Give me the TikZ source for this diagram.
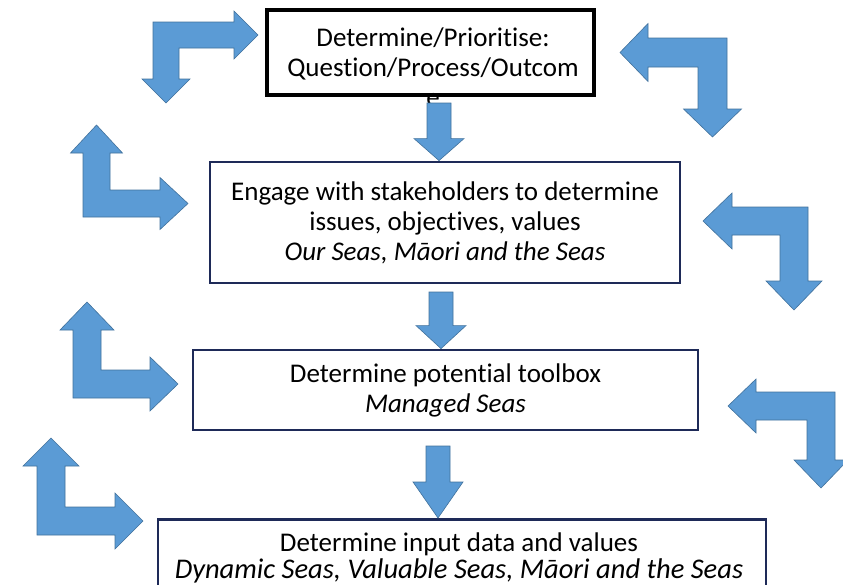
\documentclass[tikz,border=0pt]{standalone}
\usepackage{fontspec}
\setmainfont{Carlito}[Ligatures={NoCommon,NoContextual},RawFeature={-liga}]
\usepackage{tikz}
\usetikzlibrary{calc}
\usetikzlibrary{positioning}
\definecolor{arrowblue}{RGB}{91,155,213}
\definecolor{arrowedge}{RGB}{65,113,156}
\definecolor{boxnavy}{RGB}{30,42,88}
\newcommand{\boxfont}{\fontsize{27}{30}\selectfont}
\newcommand{\bentarrow}[9]{%
	\begin{scope}[shift={(#1,#2)},xscale=#3,yscale=#4]
		\filldraw[bentfill] (0,0) -- (#5-#9,0) -- (#5-#9,#7/2-#8) -- (#5,#7/2) -- (#5-#9,#7/2+#8) -- (#5-#9,#7) -- (#7,#7) -- (#7,#6-#9) -- (#7/2+#8,#6-#9) -- (#7/2,#6) -- (#7/2-#8,#6-#9) -- (0,#6-#9) -- cycle;
	\end{scope}}
\newcommand{\flowarrow}[3]{%
	\filldraw[bentfill] let \p1=(#1), \p2=(#2 -| #1) in
		(\x1-12pt,\y1) -- (\x1+12pt,\y1) -- (\x1+12pt,\y2+#3pt) -- (\x1+25pt,\y2+#3pt) -- (\x2,\y2) -- (\x1-25pt,\y2+#3pt) -- (\x1-12pt,\y2+#3pt) -- cycle;}

\begin{document}
\begin{tikzpicture}[line cap=round,line join=round, x=1pt,y=-1pt,
	box/.style={draw=boxnavy, fill=white, line width=2.8pt, line cap=butt, line join=miter, inner sep=0pt, align=center, font=\boxfont},
	boxtext/.style={inner sep=0pt, align=center, font=\boxfont},
	bentfill/.style={fill=arrowblue, draw=arrowedge, line width=0.6pt, line join=miter}]
	\useasboundingbox (0,0) rectangle (843,584);
	\clip (0,0) rectangle (843,584);
	\node[box, draw=black, line width=3.2pt, minimum width=327, minimum height=85] (prio) at (430.5,52.5) {};
	\node[boxtext, anchor=north] (priotext) at (433,28) {Determine/Prioritise:\\Question/Process/Outcom\\e};
	\node[box, minimum width=470, minimum height=121] (engage) at (445,222.5) {Engage with stakeholders to determine\\issues, objectives, values\\\textit{Our Seas, Māori and the Seas}};
	\node[box, minimum width=505, minimum height=80] (toolbox) at (445.5,390) {Determine potential toolbox\\\textit{Managed Seas}};
	\node[box, minimum width=608, minimum height=100, anchor=north] (input) at (462,518) {};
	\node[boxtext, anchor=north] (inputtext) at (459,533) {Determine input data and values\\[-3pt]\fontsize{28.5}{30}\selectfont\textit{Dynamic Seas, Valuable Seas, Māori and the Seas}};
	\coordinate (a1) at (439,103);
	\coordinate (a2) at (441,292);
	\coordinate (a3) at (438,446);
	\flowarrow{a1}{engage.north}{22}
	\flowarrow{a2}{toolbox.north}{23}
	\flowarrow{a3}{input.north}{36}
	\bentarrow{153}{22}{1}{1}{105}{81}{26}{24}{24}
	\bentarrow{727}{38}{-1}{1}{107}{99}{29}{29}{28}
	\bentarrow{83}{217}{1}{-1}{105}{92}{27}{26}{28}
	\bentarrow{808}{207}{-1}{1}{105}{103}{28}{28}{29}
	\bentarrow{73}{398}{1}{-1}{105}{96}{28}{27}{28}
	\bentarrow{835}{392}{-1}{1}{107}{96}{28}{27}{28}
	\bentarrow{37}{535}{1}{-1}{106}{97}{28}{28}{28}
\end{tikzpicture}
\end{document}
